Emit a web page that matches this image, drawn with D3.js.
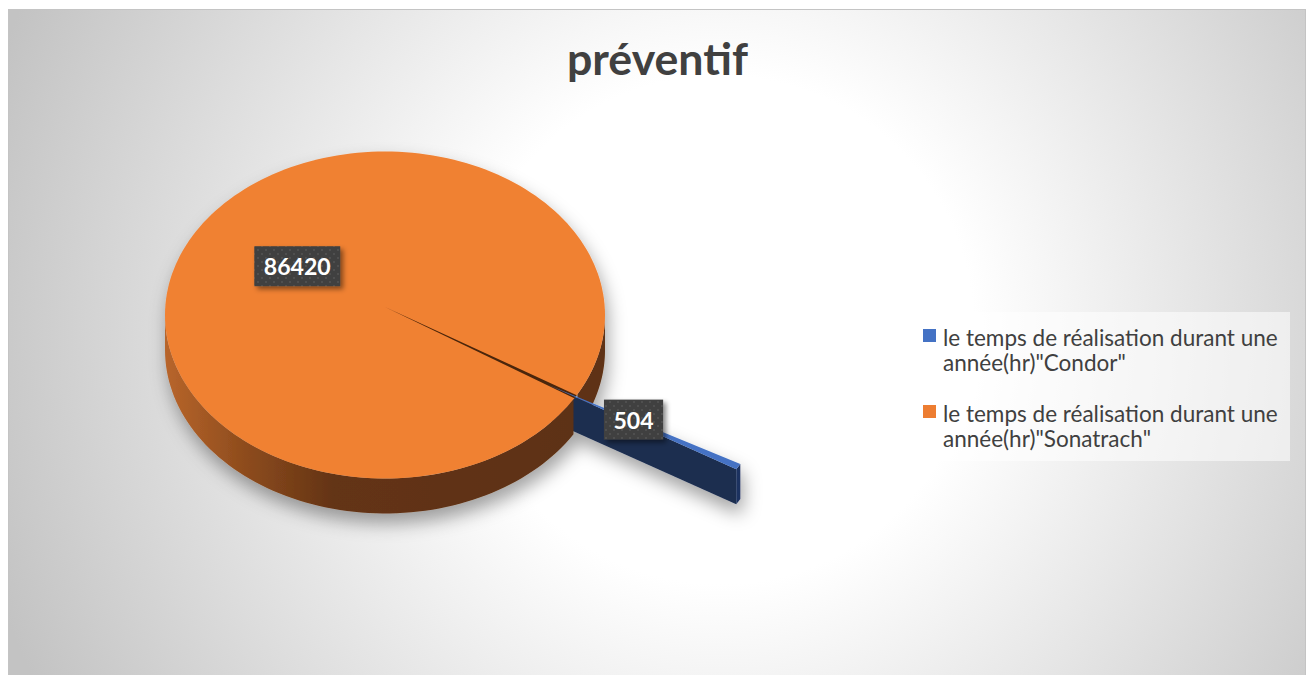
<!DOCTYPE html>
<html><head><meta charset="utf-8">
<script src="https://cdn.jsdelivr.net/npm/d3@7"></script>
<style>html,body{margin:0;padding:0;background:#fff;} svg{display:block}</style>
</head><body><svg id="c" width="1311" height="675"></svg>
<script>
// ---- data ----
const title = "préventif";
const categories = ['le temps de réalisation durant une année(hr)"Condor"', 'le temps de réalisation durant une année(hr)"Sonatrach"'];
const values = [504, 86420];
const colors = ["#4472c4", "#ed7d31"];
const sideColors = ["#1b2d50", "#5e3113"];

// ---- layout ----
const svg = d3.select("#c");
const defs = svg.append("defs");
const FONT = "Lato, 'Open Sans', sans-serif";

const rg = defs.append("radialGradient").attr("id","bg").attr("gradientUnits","userSpaceOnUse")
  .attr("cx",720).attr("cy",330).attr("r",770);
rg.append("stop").attr("offset",0).attr("stop-color","#ffffff");
rg.append("stop").attr("offset",0.33).attr("stop-color","#ffffff");
rg.append("stop").attr("offset",1).attr("stop-color","#c3c3c3");
svg.append("rect").attr("x",8.5).attr("y",9.5).attr("width",1297).attr("height",670)
  .attr("fill","url(#bg)").attr("stroke","#c4c4c4");

function fit(sel, target){
  const w = sel.node().getComputedTextLength();
  sel.attr("font-size", parseFloat(sel.attr("font-size")) * target / w);
  return sel;
}

// title
fit(svg.append("text").attr("x",657.5).attr("y",75).attr("text-anchor","middle")
  .attr("font-family",FONT).attr("font-weight","bold").attr("font-size",40)
  .attr("fill","#404040").text(title), 181);

// ---- 3D pie ----
const cx = 385, cy = 315, R = 220, k = 0.743, h = 35, explode = 188;
const total = d3.sum(values);
const blueMid = 120 * Math.PI / 180;
const blueSpan = 2 * Math.PI * values[0] / total;
const arcs = d3.pie().sort(null).startAngle(blueMid - blueSpan/2).endAngle(blueMid - blueSpan/2 + 2*Math.PI)(values);
const th = a => a - Math.PI/2;
const P = (t, r, z=0, off=[0,0]) => [cx + off[0] + r*Math.cos(t), cy + off[1] + k*r*Math.sin(t) + z];
const arcPts = (t0, t1, r, z, off, n=80) => d3.range(n+1).map(i => P(t0 + (t1-t0)*i/n, r, z, off));
const line = d3.line();
const poly = pts => line(pts) + "Z";

const wg = defs.append("linearGradient").attr("id","wall").attr("gradientUnits","userSpaceOnUse")
  .attr("x1",cx-R).attr("x2",cx+R).attr("y1",0).attr("y2",0);
[[0,"#b8652b"],[0.18,"#8e4c1d"],[0.38,"#643415"],[1,"#5c3012"]].forEach(([o,c]) =>
  wg.append("stop").attr("offset",o).attr("stop-color",c));

const sh = defs.append("filter").attr("id","shadow").attr("x","-20%").attr("y","-20%").attr("width","140%").attr("height","160%");
sh.append("feDropShadow").attr("dx",3).attr("dy",10).attr("stdDeviation",9).attr("flood-color","#000").attr("flood-opacity",0.36);

const g = svg.append("g").attr("filter","url(#shadow)");

const orange = arcs[1], blue = arcs[0];
const ot0 = th(orange.startAngle), ot1 = th(orange.endAngle);
const bt0 = th(blue.startAngle), bt1 = th(blue.endAngle), btm = (bt0+bt1)/2;
const boff = [explode*Math.cos(btm), k*explode*Math.sin(btm)];

// orange wall, part behind the blue slice (screen angles 0..blue start)
const wallPts = (t0,t1,off=[0,0]) => arcPts(t0,t1,R,0,off).concat(arcPts(t0,t1,R,h,off).reverse());
g.append("path").attr("d", poly(wallPts(2*Math.PI, ot1))).attr("fill", sideColors[1]);
// blue side face and outer face
g.append("path").attr("d", poly([P(bt1,0,0,boff),P(bt1,R,0,boff),P(bt1,R,h,boff),P(bt1,0,h,boff)])).attr("fill", sideColors[0]);
g.append("path").attr("d", poly(wallPts(bt0,bt1,boff))).attr("fill","#1c3160");
// orange wall front
g.append("path").attr("d", poly(wallPts(ot0, Math.PI))).attr("fill","url(#wall)");
// orange top
g.append("path").attr("d", poly(arcPts(0, 2*Math.PI, R, 0, [0,0], 200))).attr("fill","#f08133");
// dark cut line of the orange slice
const d = blueSpan*0.3;
g.append("path").attr("d", poly([P(0,0,-8), P(btm-d,R), P(btm+d,R)])).attr("fill","#4a2509");
// blue top
g.append("path").attr("d", poly([P(bt0,0,0,boff)].concat(arcPts(bt0,bt1,R,0,boff,10)))).attr("fill", colors[0]);

// ---- data labels ----
const pat = defs.append("pattern").attr("id","dots").attr("patternUnits","userSpaceOnUse").attr("width",8).attr("height",8);
pat.append("rect").attr("width",8).attr("height",8).attr("fill","#404040");
pat.append("circle").attr("cx",2).attr("cy",2).attr("r",1).attr("fill","#545454");
pat.append("circle").attr("cx",6).attr("cy",6).attr("r",1).attr("fill","#545454");
const ls = defs.append("filter").attr("id","lshadow").attr("x","-30%").attr("y","-30%").attr("width","160%").attr("height","160%");
ls.append("feDropShadow").attr("dx",3).attr("dy",3).attr("stdDeviation",2.5).attr("flood-color","#000").attr("flood-opacity",0.45);

const labelPos = [(p => [p[0], p[1]-2])(P(btm, 0.45*R, 0, boff)), (p => [p[0]-2, p[1]-12])(P(th((orange.startAngle+orange.endAngle)/2), 0.45*R))];
let labelFs = null;
[1,0].forEach(i => {
  const [x,y] = labelPos[i];
  const lg = svg.append("g");
  const rect = lg.append("rect").attr("fill","url(#dots)").attr("filter","url(#lshadow)");
  const t = lg.append("text").attr("x",x).attr("y",y).attr("text-anchor","middle").attr("dominant-baseline","central")
    .attr("font-family",FONT).attr("font-weight","bold").attr("font-size",labelFs || 24).attr("fill","#fff")
    .text(values[i]);
  if (!labelFs) { fit(t, 67); labelFs = parseFloat(t.attr("font-size")); }
  const w = t.node().getComputedTextLength() + 19, hh = 40;
  rect.attr("x", x - w/2).attr("y", y - hh/2).attr("width", w).attr("height", hh);
});

// ---- legend ----
svg.append("rect").attr("x",910).attr("y",312).attr("width",380).attr("height",149).attr("fill","#ffffff").attr("opacity",0.55);
let legFs = null;
categories.forEach((c, i) => {
  const cut = c.indexOf(" une ") + 4;
  const lines = [c.slice(0, cut).trim(), c.slice(cut).trim()];
  const y0 = 329 + i*76;
  svg.append("rect").attr("x",923).attr("y",y0).attr("width",13).attr("height",13).attr("fill",colors[i]);
  lines.forEach((l, j) => {
    const t = svg.append("text").attr("x",943).attr("y",y0 + 17 + j*25)
      .attr("font-family",FONT).attr("font-size",legFs || 20).attr("fill","#404040").text(l);
    if (!legFs) { fit(t, 335); legFs = parseFloat(t.attr("font-size")); }
  });
});
</script></body></html>
